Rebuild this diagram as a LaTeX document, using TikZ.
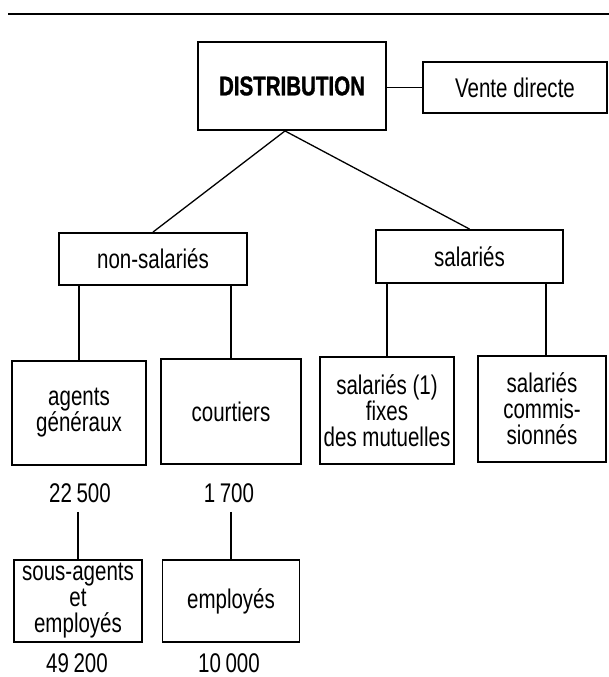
\documentclass[tikz,border=0pt]{standalone}
\usepackage{fontspec}
\setmainfont{Liberation Sans}[FakeStretch=0.76]
\newfontfamily\heavyfont{Liberation Sans Bold}[FakeStretch=0.76,FakeBold=1.2]
\usetikzlibrary{calc}
\begin{document}
\begin{tikzpicture}[x=1pt,y=-1pt,
  box/.style={draw,line width=1.9pt,inner sep=0pt,align=center,
    font=\fontsize{27}{26}\selectfont},
  num/.style={inner sep=0pt,font=\fontsize{27}{26}\selectfont},
  link/.style={line width=1.3pt}]
\useasboundingbox (0,0) rectangle (609,677);
\coordinate (r1) at (8,14);
\coordinate (r2) at (609,14);
\draw[line width=1.8pt] (r1) -- (r2);
\node[box,minimum width=188pt,minimum height=88pt,font=\heavyfont\fontsize{27}{26}\selectfont] (dist) at (292,86) {DISTRIBUTION};
\node[box,minimum width=184pt,minimum height=51pt] (vente) at (515,87.5) {Vente directe};
\node[box,minimum width=188pt,minimum height=52pt] (nonsal) at (153,259) {non-salariés};
\node[box,minimum width=187pt,minimum height=53pt] (sal) at (469.5,256.5) {salariés};
\node[box,minimum width=134pt,minimum height=104pt] (agents) at (79,413) {agents\\généraux};
\node[box,minimum width=140pt,minimum height=105pt] (court) at (231,411.5) {courtiers};
\node[box,minimum width=134pt,minimum height=107pt] (sal1) at (387,410.5) {salariés (1)\\fixes\\des mutuelles};
\node[box,minimum width=128pt,minimum height=106pt] (comm) at (542,409) {salariés\\commis-\\sionnés};
\node[num] (n1) at (80,493) {22\thinspace500};
\node[num] (n2) at (229,493) {1\thinspace700};
\node[box,minimum width=128pt,minimum height=82pt] (sous) at (78,601) {sous-agents\\et\\employés};
\node[box,minimum width=137pt,minimum height=82pt] (empl) at (231,601) {employés};
\node[num] (n3) at (77,663) {49\thinspace200};
\node[num] (n4) at (229,663) {10\thinspace000};
\coordinate (apex) at ($(dist.south)+(-7,0)$);
\draw[link] (dist.east |- vente.west) -- (vente.west);
\draw[link] (apex) -- (nonsal.north);
\draw[link] (apex) -- (sal.north);
\draw[link] (agents.north) -- (agents.north |- nonsal.south);
\draw[link] (court.north) -- (court.north |- nonsal.south);
\draw[link] (sal1.north) -- (sal1.north |- sal.south);
\draw[link] ([xshift=4pt]comm.north) -- ([xshift=4pt]comm.north |- sal.south);
\draw[link] ([yshift=-9pt]n1.south -| sous.north) -- (sous.north);
\draw[link] ([yshift=-9pt]n2.south -| empl.north) -- (empl.north);
\end{tikzpicture}
\end{document}
